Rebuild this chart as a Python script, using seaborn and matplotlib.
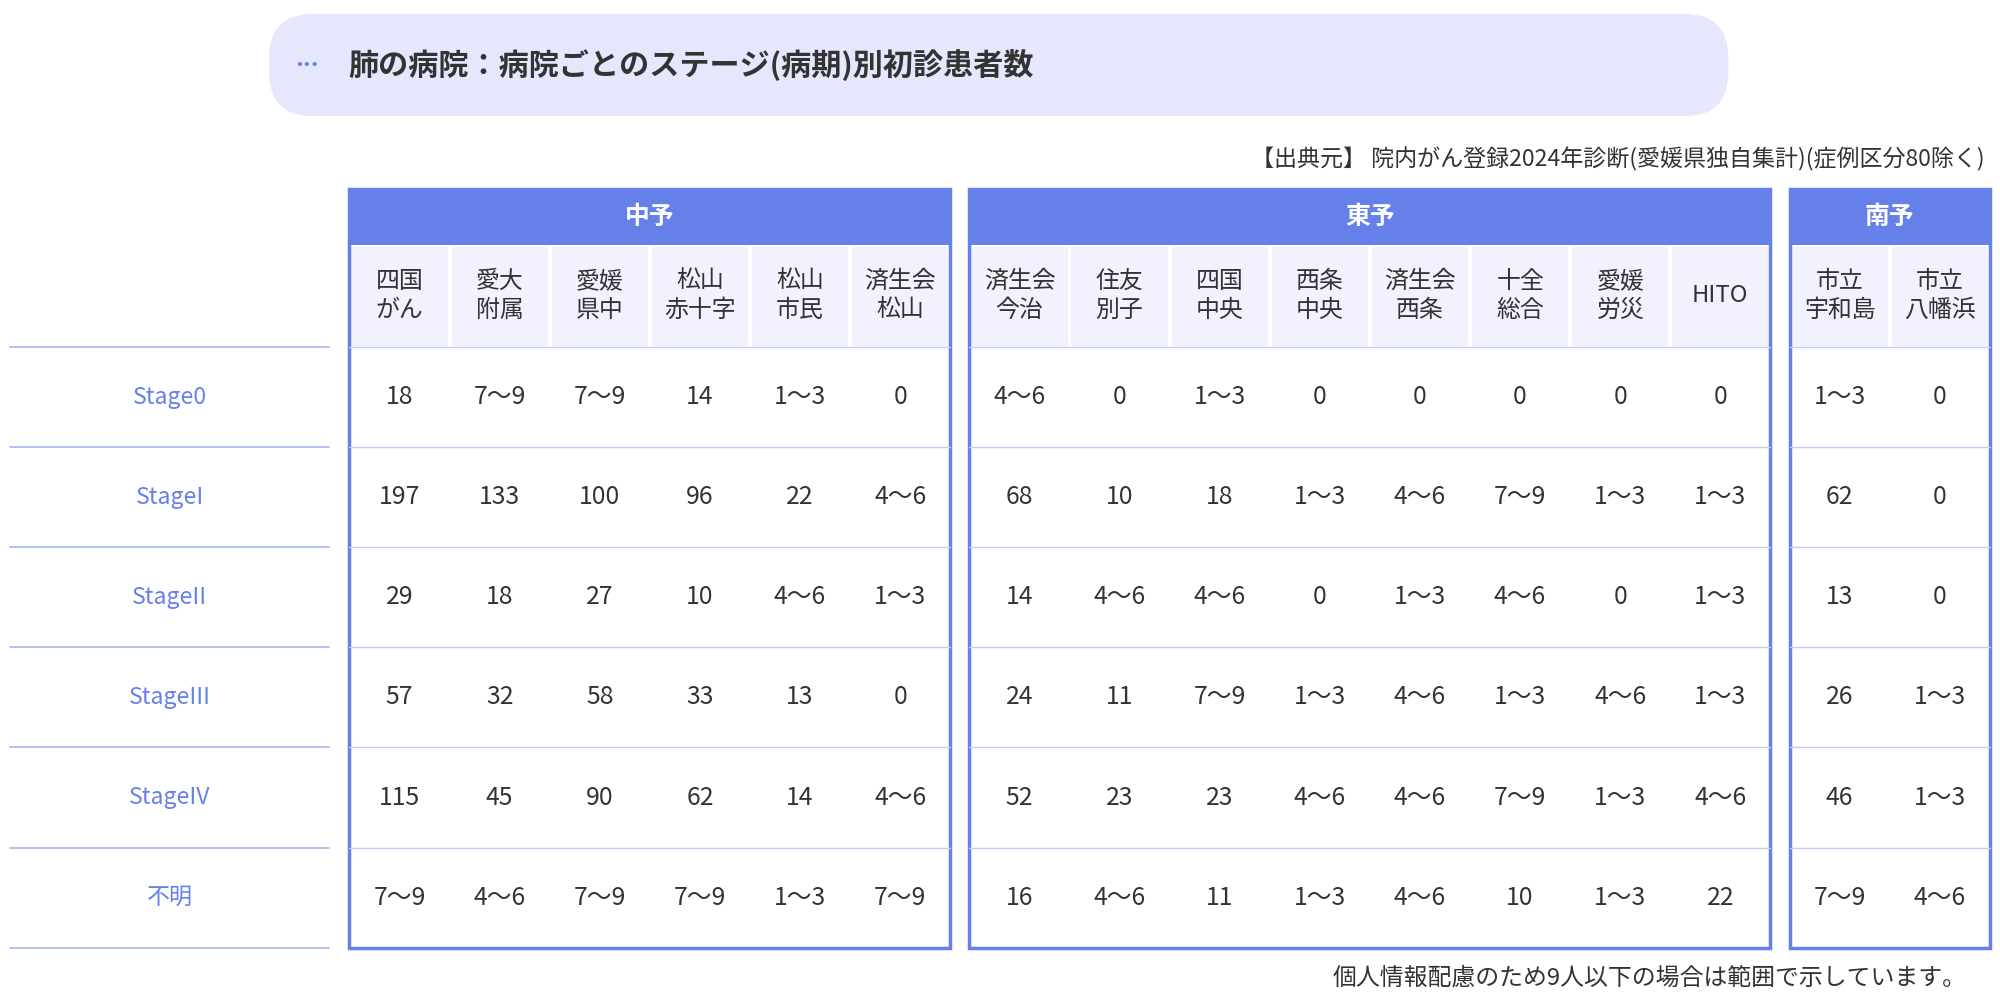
import matplotlib
matplotlib.use("Agg")
import matplotlib.pyplot as plt
from matplotlib.patches import Rectangle, FancyBboxPatch
import seaborn as sns

sns.set_theme(style="white")
plt.rcParams['font.family'] = ['Noto Sans CJK JP', 'DejaVu Sans']

title = "肺の病院：病院ごとのステージ(病期)別初診患者数"
source = "【出典元】 院内がん登録2024年診断(愛媛県独自集計)(症例区分80除く)"
footnote = "個人情報配慮のため9人以下の場合は範囲で示しています。"
stages = ["Stage0", "StageI", "StageII", "StageIII", "StageIV", "不明"]
regions = ["中予", "東予", "南予"]
hosp_chuyo = ["四国\nがん", "愛大\n附属", "愛媛\n県中", "松山\n赤十字", "松山\n市民", "済生会\n松山"]
hosp_toyo = ["済生会\n今治", "住友\n別子", "四国\n中央", "西条\n中央", "済生会\n西条", "十全\n総合", "愛媛\n労災", "HITO"]
hosp_nanyo = ["市立\n宇和島", "市立\n八幡浜"]
vals_chuyo = [
    ["18", "7〜9", "7〜9", "14", "1〜3", "0"],
    ["197", "133", "100", "96", "22", "4〜6"],
    ["29", "18", "27", "10", "4〜6", "1〜3"],
    ["57", "32", "58", "33", "13", "0"],
    ["115", "45", "90", "62", "14", "4〜6"],
    ["7〜9", "4〜6", "7〜9", "7〜9", "1〜3", "7〜9"],
]
vals_toyo = [
    ["4〜6", "0", "1〜3", "0", "0", "0", "0", "0"],
    ["68", "10", "18", "1〜3", "4〜6", "7〜9", "1〜3", "1〜3"],
    ["14", "4〜6", "4〜6", "0", "1〜3", "4〜6", "0", "1〜3"],
    ["24", "11", "7〜9", "1〜3", "4〜6", "1〜3", "4〜6", "1〜3"],
    ["52", "23", "23", "4〜6", "4〜6", "7〜9", "1〜3", "4〜6"],
    ["16", "4〜6", "11", "1〜3", "4〜6", "10", "1〜3", "22"],
]
vals_nanyo = [
    ["1〜3", "0"], ["62", "0"], ["13", "0"], ["26", "1〜3"], ["46", "1〜3"], ["7〜9", "4〜6"],
]

BLUE = "#6680ea"
HEADBG = "#f1f2fd"
LINE = "#c5cdf6"
TXT = "#333333"
S = 2000 / 1568  # display-to-output scale for font sizes

fig = plt.figure(figsize=(20, 10), dpi=100)
ax = fig.add_axes([0, 0, 1, 1])
ax.set_xlim(0, 1568)
ax.set_ylim(784, 0)
ax.axis("off")

ax.add_patch(FancyBboxPatch((211, 11), 1144, 80, boxstyle="round,pad=0,rounding_size=34",
                            fc="#e5e7fd", ec="none"))
ax.text(241, 51, "•••", color=BLUE, fontsize=7 * S, ha="center", va="center",
        family="DejaVu Sans", fontweight="bold")
ax.text(273, 51, title, fontsize=17 * S, fontweight="bold", color=TXT, ha="left", va="center")
ax.text(1556, 125, source, fontsize=13 * S, color=TXT, ha="right", va="center")
ax.text(1542, 767, footnote, fontsize=13.5 * S, color=TXT, ha="right", va="center")

row_top = 272
row_h = 78.5
band_top, band_bot = 148, 192
colw = 78.5

for i, s in enumerate(stages):
    yc = row_top + (i + 0.5) * row_h
    ax.text(133, yc, s, color=BLUE, fontsize=13 * S, ha="center", va="center")
for i in range(len(stages) + 1):
    y = row_top + i * row_h
    ax.plot([8, 258], [y, y], color="#a9b6f2", lw=1.2)

groups = [(274, regions[0], hosp_chuyo, vals_chuyo),
          (760, regions[1], hosp_toyo, vals_toyo),
          (1403, regions[2], hosp_nanyo, vals_nanyo)]
bottom = row_top + len(stages) * row_h
for x0, reg, hosps, vals in groups:
    n = len(hosps)
    w = n * colw
    ax.add_patch(Rectangle((x0, band_top), w, band_bot - band_top, fc=BLUE, ec="none"))
    ax.text(x0 + w / 2, (band_top + band_bot) / 2, reg, color="white", fontsize=14 * S,
            fontweight="bold", ha="center", va="center")
    for j, h in enumerate(hosps):
        cx = x0 + j * colw
        ax.add_patch(Rectangle((cx + 1.5, band_bot + 2), colw - 3, row_top - band_bot - 3,
                               fc=HEADBG, ec="none"))
        ax.text(cx + colw / 2, (band_bot + row_top) / 2, h, color=TXT, fontsize=13.5 * S,
                ha="center", va="center", linespacing=1.3)
        for i in range(len(stages)):
            ax.text(cx + colw / 2, row_top + (i + 0.5) * row_h, vals[i][j], color=TXT,
                    fontsize=14 * S, ha="center", va="center")
    for i in range(1, len(stages)):
        y = row_top + i * row_h
        ax.plot([x0, x0 + w], [y, y], color=LINE, lw=1)
    ax.plot([x0, x0 + w], [row_top, row_top], color=LINE, lw=1)
    ax.add_patch(Rectangle((x0, band_top), w, bottom - band_top, fc="none", ec=BLUE, lw=2.5))

fig.savefig("out.png", dpi=100, facecolor="white")
